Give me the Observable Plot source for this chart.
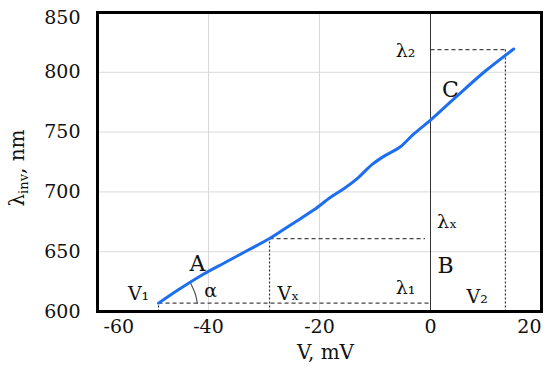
<!DOCTYPE html>
<html><head><meta charset="utf-8">
<script src="https://cdn.jsdelivr.net/npm/d3@7"></script>
<script src="https://cdn.jsdelivr.net/npm/@observablehq/plot@0.6"></script>
<style>
body{margin:0;background:#fff}
svg{font-family:"DejaVu Serif",serif}
</style>
</head><body><div id="chart"></div>
<script>
// measured curve: voltage (mV) vs inversion wavelength (nm)
const voltage    = [-49, -45.5, -41, -37, -33, -29, -25, -21, -18, -15.5, -13, -10.5, -8.5, -5.5, -3, 0, 4.5, 10, 15];
const wavelength = [607, 618, 631, 641, 651, 661, 673, 685, 695.5, 703, 712, 723, 729.5, 737.5, 748.5, 760, 779, 801.5, 819.5];

// axis ticks
const xTicks = [-60, -40, -20, 0, 20];
const xTickLabels = ["-60", "-40", "-20", "0", "20"];
const yTicks = [600, 650, 700, 750, 800, 850];
const xGrid = [-40, -20];
const yGrid = [650, 700, 750, 800];

// guide points V1, Vx, V2 and lambda1, lambdax, lambda2
const refV = [-49, -29, 13.5];
const refLambda = [607, 661, 819];
const hStartV = [-49, -29, 0];
const hStopV = [0, -1, 13.5];

// angle alpha arc
const arcV = [-43.2, -42.4, -42.0];
const arcLambda = [623.5, 615, 606.8];

// point letters
const pointText = ["A", "B", "C"];
const pointV = [-42.0, 2.7, 3.6];
const pointLambda = [640, 638.5, 785];

// symbol labels
const symText = ["α", "V₁", "Vₓ", "λ₁", "λₓ", "V₂", "λ₂"];
const symV = [-39.6, -52.6, -25.6, -4.5, 3.0, 8.4, -4.5];
const symLambda = [617.6, 615, 615, 620, 674.7, 612, 818];

const curve = voltage.map((v, i) => ({v, l: wavelength[i]}));
const vertical = refV.map((v, i) => ({v, l: refLambda[i]}));
const horizontal = refLambda.map((l, i) => ({l, v1: hStartV[i], v2: hStopV[i]}));
const arc = arcV.map((v, i) => ({v, l: arcLambda[i]}));
const points = pointText.map((t, i) => ({t, v: pointV[i], l: pointLambda[i]}));
const syms = symText.map((t, i) => ({t, v: symV[i], l: symLambda[i]}));
const xt = xTicks.map((v, i) => ({v, t: xTickLabels[i]}));

const fs = 19;
const chart = Plot.plot({
  width: 550,
  height: 371,
  marginLeft: 97,
  marginRight: 9,
  marginTop: 12,
  marginBottom: 60,
  x: {domain: [-60, 20], axis: null},
  y: {domain: [600, 850], axis: null},
  marks: [
    Plot.ruleX(xGrid, {stroke: "#d9d9d9", strokeWidth: 1}),
    Plot.ruleY(yGrid, {stroke: "#d9d9d9", strokeWidth: 1}),
    Plot.ruleX([0], {stroke: "#333", strokeWidth: 1}),
    Plot.link(horizontal, {x1: "v1", x2: "v2", y1: "l", y2: "l", stroke: "#444", strokeWidth: 1.2, strokeDasharray: "4,3"}),
    Plot.link(vertical, {x1: "v", x2: "v", y1: () => 600, y2: "l", stroke: "#333", strokeWidth: 1.2, strokeDasharray: "2,2"}),
    Plot.line(arc, {x: "v", y: "l", stroke: "#555", strokeWidth: 1.2, curve: "natural"}),
    Plot.line(curve, {x: "v", y: "l", stroke: "#1d6ff0", strokeWidth: 3, curve: "catmull-rom"}),
    Plot.text(points, {x: "v", y: "l", text: "t", fontSize: 22, fill: "#111"}),
    Plot.text(syms, {x: "v", y: "l", text: "t", fontSize: fs, fill: "#111"}),
    // x tick labels
    Plot.text(xt.filter(d => d.v > -60 && d.v < 20), {x: "v", text: "t", frameAnchor: "bottom", dy: 21, fontSize: fs, fill: "#111"}),
    Plot.text(xt.filter(d => d.v === -60), {x: "v", text: "t", frameAnchor: "bottom", dy: 21, dx: 6, textAnchor: "start", fontSize: fs, fill: "#111"}),
    Plot.text(xt.filter(d => d.v === 20), {x: "v", text: "t", frameAnchor: "bottom", dy: 21, textAnchor: "end", fontSize: fs, fill: "#111"}),
    // y tick labels
    Plot.text(yTicks.filter(d => d < 850), {y: d => d, text: d => String(d), frameAnchor: "left", textAnchor: "end", dx: -17, fontSize: fs, fill: "#111"}),
    Plot.text(yTicks.filter(d => d === 850), {y: d => d, text: d => String(d), frameAnchor: "left", textAnchor: "end", dx: -17, dy: 5, fontSize: fs, fill: "#111"}),
    // x axis label
    Plot.text(["V, mV"], {text: d => d, frameAnchor: "bottom", dy: 47, dx: 6, fontSize: 20, fill: "#111", letterSpacing: "1.5px"}),
    Plot.frame({stroke: "#000", strokeWidth: 3})
  ]
});
document.getElementById("chart").append(chart);

// y axis label with subscript
const yl = d3.select(chart).append("text")
  .attr("transform", "translate(24,168) rotate(-90)")
  .attr("text-anchor", "middle")
  .attr("font-size", 20)
  .attr("fill", "#111");
yl.append("tspan").text("λ");
yl.append("tspan").attr("font-size", 13).attr("dy", 4).text("inv");
yl.append("tspan").attr("dy", -4).text(", nm");
</script>
</body></html>
